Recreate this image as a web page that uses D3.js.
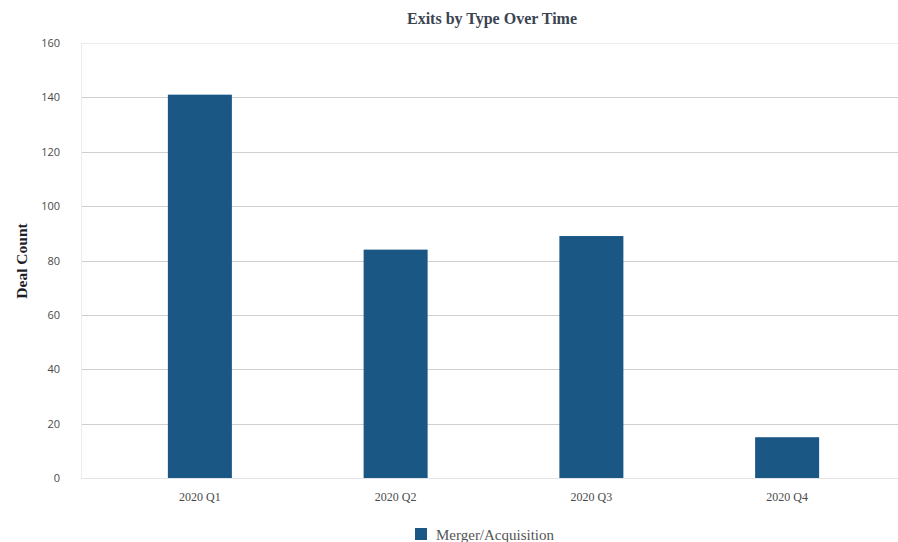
<!DOCTYPE html>
<html>
<head>
<meta charset="utf-8">
<script src="https://cdn.jsdelivr.net/npm/d3@7"></script>
<style>
body { margin: 0; background: #fff; }
</style>
</head>
<body>
<script>
var categories = ["2020 Q1", "2020 Q2", "2020 Q3", "2020 Q4"],
    dealCounts = [141, 84, 89, 15],
    yTicks = [0, 20, 40, 60, 80, 100, 120, 140, 160],
    seriesName = "Merger/Acquisition";

var width = 898,
    height = 542,
    plotLeft = 81,
    plotRight = 898,
    plotTop = 43,
    plotBottom = 478,
    barColor = "#1b5785";

var svg = d3.select("body").append("svg")
    .attr("width", width)
    .attr("height", height)
    .style("background", "#fff");

var x = d3.scaleBand()
    .domain(categories)
    .range([102, 885])
    .paddingInner(0.673)
    .paddingOuter(0.3365);

var y = d3.scaleLinear()
    .domain([0, 160])
    .range([plotBottom, plotTop]);

// grid lines
svg.selectAll("line.grid")
    .data(yTicks)
    .enter().append("line")
    .attr("class", "grid")
    .attr("x1", plotLeft)
    .attr("x2", plotRight)
    .attr("y1", function(d) { return Math.round(y(d)) + 0.5; })
    .attr("y2", function(d) { return Math.round(y(d)) + 0.5; })
    .attr("stroke", function(d) { return d === 160 ? "#ececec" : d === 0 ? "#e3e3ea" : "#cfcfcf"; })
    .attr("stroke-width", 1);

svg.append("line")
    .attr("x1", plotLeft + 0.5)
    .attr("x2", plotLeft + 0.5)
    .attr("y1", plotTop)
    .attr("y2", plotBottom)
    .attr("stroke", "#ececec");

// y tick labels
svg.selectAll("text.ytick")
    .data(yTicks)
    .enter().append("text")
    .attr("class", "ytick")
    .attr("x", 60)
    .attr("y", function(d) { return y(d) + 4; })
    .attr("text-anchor", "end")
    .style("font-family", "'Open Sans', sans-serif")
    .style("font-size", "11px")
    .style("fill", "#4a4a4a")
    .text(function(d) { return d; });

// bars
svg.selectAll("rect.bar")
    .data(dealCounts)
    .enter().append("rect")
    .attr("class", "bar")
    .attr("x", function(d, i) { return x(categories[i]); })
    .attr("width", x.bandwidth())
    .attr("y", function(d) { return y(d); })
    .attr("height", function(d) { return y(0) - y(d); })
    .attr("fill", barColor);

// x tick labels
svg.selectAll("text.xtick")
    .data(categories)
    .enter().append("text")
    .attr("class", "xtick")
    .attr("x", function(d) { return x(d) + x.bandwidth() / 2; })
    .attr("y", 501)
    .attr("text-anchor", "middle")
    .style("font-family", "'Liberation Serif', 'Times New Roman', serif")
    .style("font-size", "12px")
    .style("fill", "#4a4a4a")
    .text(function(d) { return d; });

// title
svg.append("text")
    .attr("x", 492)
    .attr("y", 24)
    .attr("text-anchor", "middle")
    .style("font-family", "'Liberation Serif', 'Times New Roman', serif")
    .style("font-size", "16px")
    .style("font-weight", "bold")
    .style("fill", "#3b4452")
    .text("Exits by Type Over Time");

// y axis title
svg.append("text")
    .attr("transform", "translate(27," + 261 + ") rotate(-90)")
    .attr("text-anchor", "middle")
    .style("font-family", "'Liberation Serif', 'Times New Roman', serif")
    .style("font-size", "15.5px")
    .style("font-weight", "bold")
    .style("fill", "#1e1e2a")
    .text("Deal Count");

// legend
svg.append("rect")
    .attr("x", 415)
    .attr("y", 528)
    .attr("width", 12)
    .attr("height", 12)
    .attr("fill", barColor);

svg.append("text")
    .attr("x", 436)
    .attr("y", 540)
    .style("font-family", "'Liberation Serif', 'Times New Roman', serif")
    .style("font-size", "15px")
    .style("fill", "#555")
    .text(seriesName);
</script>
</body>
</html>
